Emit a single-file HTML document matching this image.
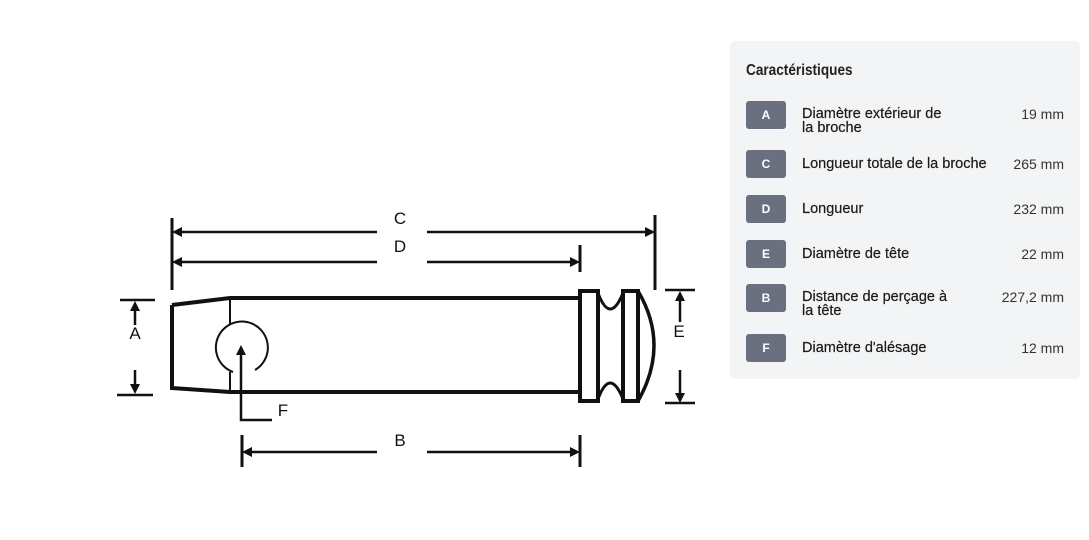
<!DOCTYPE html>
<html><head><meta charset="utf-8"><style>
body{margin:0;width:1089px;height:540px;background:#fff;position:relative;overflow:hidden;font-family:"Liberation Sans",sans-serif}
.panel{position:absolute;left:730px;top:41px;width:350px;height:338px;background:#f2f4f5;border-radius:5px}
.t{position:absolute;left:16px;top:21px;font-size:16px;font-weight:bold;color:#222;transform:scaleX(.85);transform-origin:left}
.row{position:absolute;left:16px;width:318px}
.b{position:absolute;left:0;width:40px;height:28px;background:#6b7080;border-radius:3px;color:#fff;font-weight:bold;font-size:12px;text-align:center;line-height:28px}
.l{position:absolute;left:56px;font-size:14.5px;line-height:14px;color:#1a1a1a;width:240px;white-space:nowrap;font-weight:500;-webkit-text-stroke:0.2px #1a1a1a}
.v{position:absolute;right:0;font-size:14px;line-height:14px;color:#333}
</style></head><body>
<svg width="1089" height="540" style="position:absolute;left:0;top:0">
<g stroke="#111" fill="none" stroke-width="3">
<path d="M172 218V290M655 215V290M580 245V272M242 435V467M580 435V467"/>
<path d="M176 232H377M427 232H651M176 262H377M427 262H576M246 452H377M427 452H576" stroke-width="2.5"/>
<path d="M172 305L230 298H580M172 305V388L230 392H580" stroke-width="4"/>
<path d="M230 298V325M230 372V392" stroke-width="2"/>
<path d="M255 370A26 26 0 1 0 233 372" stroke-width="2"/>
<path d="M241 352V420H272" stroke-width="2.5"/>
<rect x="580" y="291" width="18" height="110" stroke-width="4"/>
<rect x="623" y="291" width="15" height="110" stroke-width="4"/>
<path d="M598 293Q610 325 623 293M598 399Q610 367 623 399" stroke-width="3"/>
<path d="M638 291Q670 345 638 401" stroke-width="3.5"/>
<path d="M665 290H695M665 403H695M680 296V322M680 370V399M120 300H155M117 395H153M135 306V325M135 370V389" stroke-width="2.5"/>
</g>
<g fill="#111">
<path d="M172 232l10-5v10zM655 232l-10-5v10zM172 262l10-5v10zM580 262l-10-5v10zM242 452l10-5v10zM580 452l-10-5v10zM241 345l-5 10h10zM680 291l-5 10h10zM680 403l-5-10h10zM135 301l-5 10h10zM135 394l-5-10h10z"/>
</g>
<g font-family="Liberation Sans" font-size="17" fill="#111" text-anchor="middle">
<text x="400" y="224">C</text><text x="400" y="252">D</text><text x="400" y="446">B</text>
<text x="135" y="339">A</text><text x="679" y="337">E</text><text x="283" y="416">F</text>
</g>
</svg>
<div class="panel">
<div class="t">Caractéristiques</div>
<div class="row" style="top:60px"><div class="b">A</div><div class="l" style="top:6px">Diamètre extérieur de<br>la broche</div><div class="v" style="top:6px">19 mm</div></div>
<div class="row" style="top:109px"><div class="b">C</div><div class="l" style="top:7px">Longueur totale de la broche</div><div class="v" style="top:7px">265 mm</div></div>
<div class="row" style="top:154px"><div class="b">D</div><div class="l" style="top:7px">Longueur</div><div class="v" style="top:7px">232 mm</div></div>
<div class="row" style="top:199px"><div class="b">E</div><div class="l" style="top:7px">Diamètre de tête</div><div class="v" style="top:7px">22 mm</div></div>
<div class="row" style="top:243px"><div class="b">B</div><div class="l" style="top:6px">Distance de perçage à<br>la tête</div><div class="v" style="top:6px">227,2 mm</div></div>
<div class="row" style="top:293px"><div class="b">F</div><div class="l" style="top:7px">Diamètre d'alésage</div><div class="v" style="top:7px">12 mm</div></div>
</div>
</body></html>
